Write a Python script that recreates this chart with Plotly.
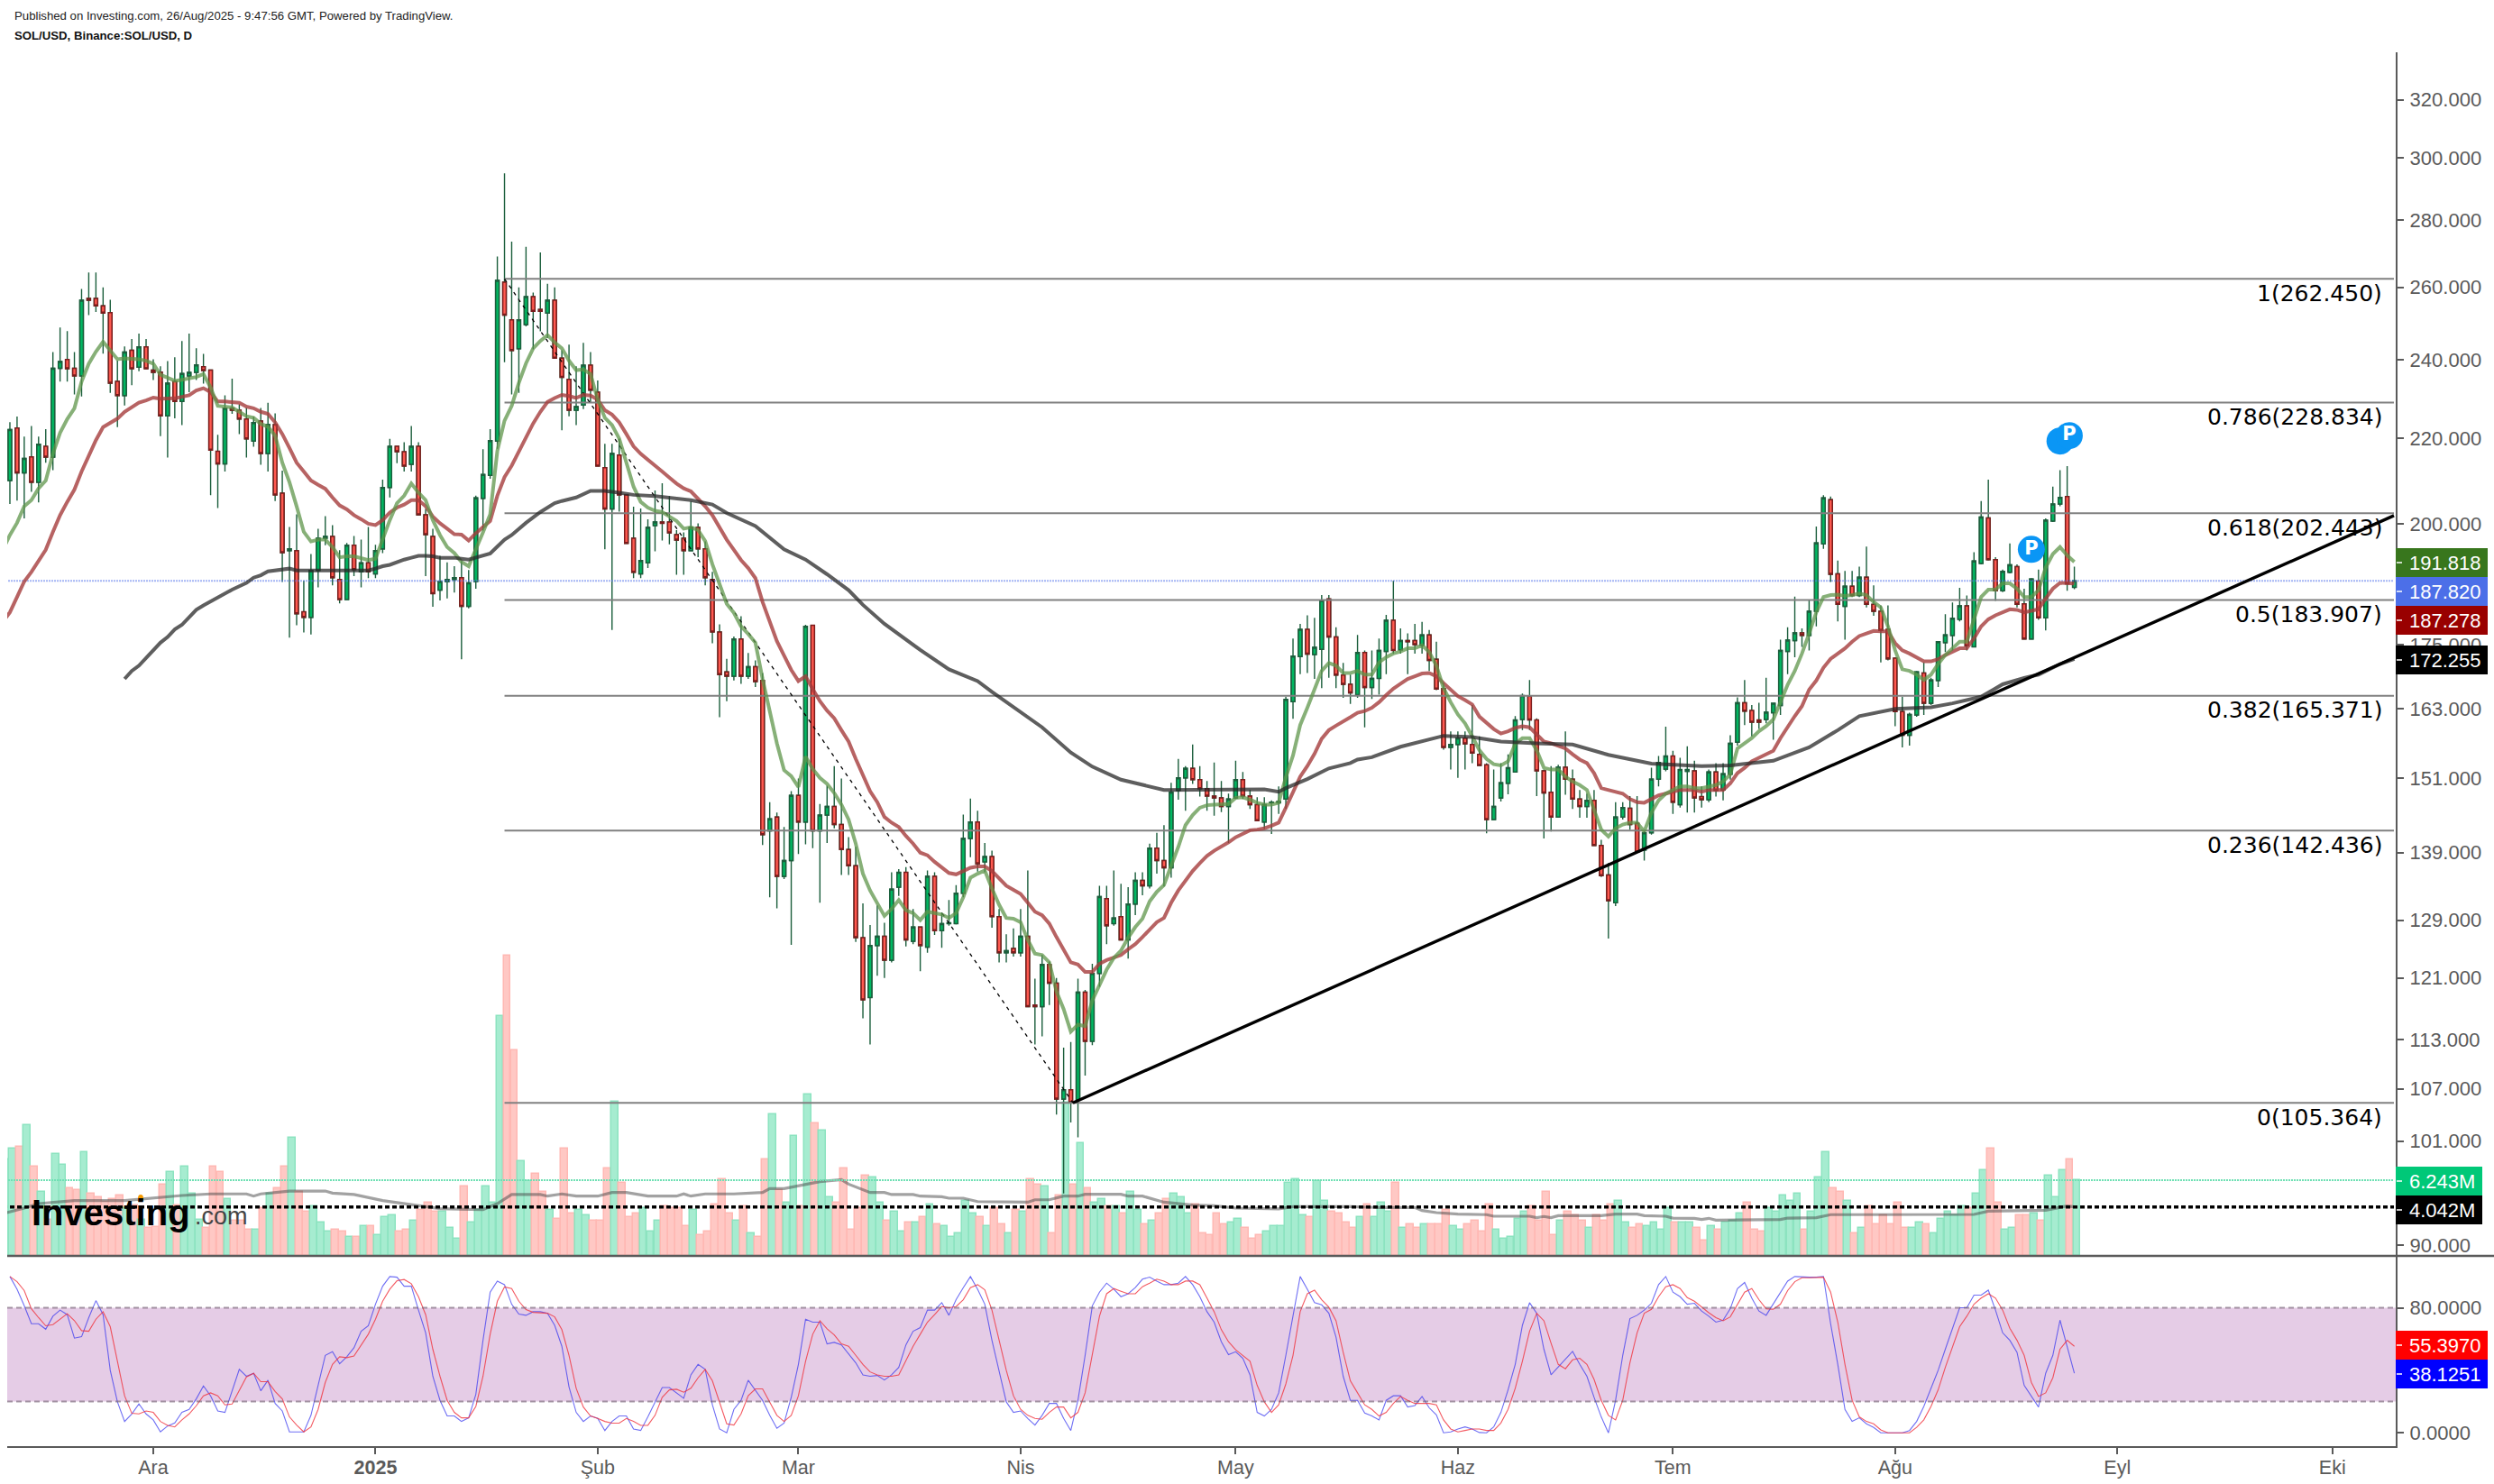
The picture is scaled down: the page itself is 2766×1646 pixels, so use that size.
# SOL/USD daily chart with fib levels, volume and stochastic
import math
import pandas as pd
import plotly.graph_objs as go

W, H = 2766, 1646

# candles, one per day from 2024-11-11
first_day = pd.Timestamp("2024-11-11")

opens = [
    209.9,222.5,211.7,215.5,209.5,218,215.4,237.7,240,237.7,
    235.7,256.8,256.8,254.7,252.8,234.3,230.6,242.5,238,243.4,
    237.2,236.7,225.5,234.3,229.1,235.7,236.6,238.1,237.2,216.8,
    213.8,227.4,226.9,224.7,219.3,224.2,216.3,223.3,207,194.2,
    194.2,181.5,180.4,190,196.9,197.3,188.1,184,195.4,189.7,
    191.6,189.3,194.6,208.3,218,216.7,213.7,218,202.1,197.3,
    185.9,187.7,188.1,188.5,182.6,187.7,205.8,211.1,219.3,261.5,
    250.8,242.9,249.5,257.3,253.7,252.7,256.3,240.4,234.8,226.9,
    228.2,238.5,231.5,212.9,203.4,215.9,206.6,196.9,189.3,191.6,
    199.7,200.5,200.5,197.7,196.9,194.2,199.3,194.6,188.1,177.5,
    169.8,169,176.1,169,170.8,168.2,142.4,144.6,135.4,137.8,
    148.1,143.8,178.8,142.4,144.9,146.3,143.4,139.5,137,126.5,
    118.4,125.4,126.7,123.4,133.8,136,126,128,125.2,135.4,
    127.5,128.5,128.5,132.9,141.2,143.8,137.6,138.4,129.5,124.4,
    125,124.4,126.7,117.4,117.2,122.8,120.3,105.8,106.9,105.7,
    119.1,112.8,121.6,132.1,128.5,129.5,126.2,131.3,134.8,134,
    139.7,137.8,136.7,148.9,151,152.6,150.7,149.2,148,147.7,
    146.3,147.7,150.7,148,146.6,143.8,146.9,146.9,147.5,164.3,
    172.7,178,173.1,174.1,184.1,176.5,169.2,167.5,165.6,173.5,
    166.9,168.6,173.7,179.8,174,175.8,175.8,174.9,176.9,172.2,
    166.7,156.2,156.7,157.8,156.7,155,153.2,144.2,147.7,150.1,
    152,161.1,165.3,161,152.2,148.6,144.6,152.8,150.8,147.5,
    146.3,147.3,140.1,135.6,131.5,144.6,146,143.6,139.4,142.1,
    150.8,152.5,154.7,146.6,152.1,152.2,147.9,147.4,152,149,
    151.6,157.1,164.1,162.7,161,161.1,162.3,163.6,173.7,175.8,
    177.3,176.8,181.6,195.7,205.5,189.3,182.6,186.7,184.8,188.6,
    183,181.6,178,172.4,162.5,158.3,161.9,169.6,164,168.2,
    175.4,176.8,180,182.7,174.6,191.5,201.4,192.3,185.8,189.6,
    190.8,183.1,176.1,187.8,180.3,200.7,204.5,206.2,186.5,
]
closes = [
    222.1,211.7,215.1,209.5,218.5,215.4,237.7,239.5,237.6,235.7,
    256.3,256.3,254.7,252.7,233.8,230.6,242,237.6,243.4,237.6,
    236.6,225.5,233.8,229.1,236.3,236.6,238.6,237.1,217.1,213.8,
    227.4,226.9,224.7,219.8,223.8,216.3,223.3,206.6,193.8,194.6,
    181.1,180.4,190,196.9,197.3,188.5,184,195.4,190.2,191.6,
    189.7,194.2,208.3,218,216.7,213.3,218,202.1,197.7,185.2,
    187.7,188.1,188.5,182.6,187.4,205.9,211.3,219.4,262,252.1,
    242.4,250.8,257.3,253.2,253.2,256.3,240.4,235.3,226.9,227.8,
    238.5,232,213.3,203.4,216.3,206.6,195.8,189.6,192.1,199.3,
    200.5,200.2,198.1,196.5,194.2,199.3,194.6,188.5,177.5,169.3,
    169,176.1,169,170.8,168,141.8,144.3,135.4,137.8,148.1,
    143.8,178.6,142.4,144.9,146.3,143.4,139.5,137,126.5,118.1,
    125.4,126.7,123.4,133.5,136,126.2,128,125.4,135.4,127.5,
    128.5,128.6,132.9,141.2,143.8,137.3,138.4,129.5,124.4,124.7,
    124.4,126.7,117.2,117.2,122.8,120.3,105.8,106.9,105.4,119.1,
    112.8,121.6,132.4,128.2,129.3,126.2,131.3,134.8,134,139.7,
    137.8,136.7,148.6,151,152.6,150.7,149.2,148,147.7,146.3,
    147.5,150.7,148,146.6,144,146.6,147,147.1,164.7,172.8,
    178,173.2,174.5,183.8,176.5,169.2,167.5,165.9,173.5,166.9,
    168.6,173.9,179.8,173.9,175.8,175.6,175,176.9,172,166.6,
    156.2,156.7,157.8,156.8,155.2,153.1,144.2,146.3,150.2,152.7,
    161,165.4,161,152.2,148.5,144.6,152.8,150.8,147.5,146.3,
    147.3,140.1,135.5,131.8,144.6,146.1,143.4,139.1,142.1,150.8,
    153.6,154.7,147,152.4,152.4,147.7,147.4,152,148.9,151.7,
    156.9,164.1,162.6,160.6,160.6,162.4,164,173.9,175.9,177.3,
    176.8,181.6,195.9,205.9,189.2,183,186.7,184.8,188.6,183,
    181.6,177.8,172.3,162.5,158.3,162,169.8,164,168.3,175.6,
    176.9,180.2,182.7,174.8,192,201.6,192.3,185.8,189.8,191.2,
    183,176.1,188.2,180.3,200.9,204.5,206,187.2,187.82,
]
highs = [
    223.9,225.3,220.4,223,220.4,222.2,242,248.7,247.7,242,
    259.5,264.3,264.3,260,256.4,239.7,243.5,245.5,247,245.5,
    240.1,238.2,239.6,240.6,245,247,243,241.5,237.2,220.8,
    230.7,235,228.4,227.5,225.3,227.5,228.8,226.1,212.2,199.4,
    202.2,187.9,193.5,199,201.8,199.8,194.3,195.9,197.4,196.6,
    199.4,195.5,210.1,219.8,218,219,223,219,203.4,199,
    193.1,191.7,190.9,192,190.1,206.4,217.3,222.2,269,295,
    273.5,260,271.9,258.5,270.2,261,260,242.5,244,238.2,
    244.5,242,234.5,218.6,218.6,219.9,206.7,203.9,203.5,201.1,
    207.6,209.3,206.3,198.7,198.2,205.1,200.2,196.2,189.7,179,
    172.3,176.6,180.6,173.4,172,169.6,147,145.3,143,148.8,
    150.9,178.9,178.9,146.7,149.7,153,150.9,141.4,139.9,131.4,
    128.3,131.1,128.6,136,136.5,136.8,130.6,128,136.3,136,
    130.1,131.9,134.1,145,147.6,145.6,140.5,139.3,130.6,127,
    127.8,130.6,136.3,120.9,124.1,123.2,121,112,112.7,120.9,
    119.4,122.9,134,134,136.3,134.3,133.8,136,136,140.4,
    142.1,143.3,150.2,154.2,153,156.7,153,150.5,153.6,150.5,
    148.4,153.9,152,149,147.8,147.8,147.3,149.6,165.2,176.2,
    179.1,180.8,180.3,184.9,184.9,178.4,171.5,169.3,176.9,173.9,
    173.9,176.2,180.9,187.9,178.2,177.2,179.1,179.5,177.9,175.6,
    167.8,159,159,159,163.7,158.1,153.5,152.4,153.5,155,
    161.7,165.8,168.3,161.3,152.4,153,153.2,159,152.4,149,
    148.4,149,141,137.4,147,147,148,148,142.6,152.7,
    154.7,159.8,155.6,154.4,156.4,153.9,149.6,152.4,153.5,153.5,
    158.3,165.1,168.3,163.7,164.1,168.7,164.1,176,178.4,184.6,
    178.2,183.8,199.5,206.5,206.2,192.1,189.9,189.9,190.8,195.1,
    186.9,182.8,182.8,172.6,165.2,162.3,170,171.6,168.7,175.7,
    181,183.4,186.4,184.8,193.9,205.2,210.1,192.8,190.2,195.8,
    191.3,186.2,188.4,190.2,201.3,208.5,212.3,213.3,190.8,
]
lows = [
    204.5,205.3,201.3,207.3,204.9,214.1,212.3,234.2,234.2,230.9,
    230.4,252.1,253,241.6,231.3,222.7,228.1,233.3,236.9,237.6,
    234.6,220.5,215.3,224.9,223.2,231.5,234.6,233.7,206.5,203.6,
    212,226,221,215.3,217.9,213.6,212,205.2,187.6,176.4,
    178.8,177.4,177,186.5,195.4,186.9,183.2,184,188.8,186.5,
    188.4,188.4,193.7,206,214,212,212,202.1,188.8,182.5,
    183.8,184.2,185.4,172.2,182.2,186.2,198.6,210.3,217.4,239.3,
    230.9,231.3,249,242.7,247.6,245.8,240.4,221.9,225.4,223.2,
    227.2,228.7,213.3,194.5,177.9,202.8,195.8,188.4,188.4,190.5,
    194.1,196.4,195.6,189.1,189.1,194.1,192.8,186.9,175.3,161.5,
    164.4,168.2,167.6,168.5,167,140.2,132.3,130.7,135,125.5,
    138.8,140.3,139.7,131.5,140.5,142.8,135.6,135.6,125.9,115.7,
    112.4,121.3,121,123.1,132.5,125.3,125.6,121.9,124.4,126.9,
    125.1,128.2,128.4,132.3,138.3,136.1,136,127.9,123.1,123.1,
    123.9,123.9,117.2,112.4,113.4,117.4,104,95.3,103.1,101.4,
    108.6,112.3,119.8,125.6,128.2,126.2,123.6,129.7,132.6,133.6,
    135.8,133.9,135.2,147.4,145.6,150,147.9,145.6,144.8,145.4,
    140.5,147.5,147.5,145.9,143.9,142.7,141.9,145.1,145.9,161.2,
    169.4,169.6,168.5,166.8,168.7,166.8,165,163.9,165,159.7,
    164.8,165.6,169.4,173.3,173.3,169.4,173.3,173.3,170,166.4,
    155.8,152.4,151,152.4,153.5,153,142,144.2,147.1,148.3,
    151.9,159.2,159.2,148,141.2,142.3,144.5,148.2,145.9,144.5,
    144.5,140,135.3,126.4,131,144.2,142.6,139.1,137.8,141.8,
    149.6,152.1,145.1,146.1,145.3,145.3,146.1,147,147.9,147.3,
    150.7,156.5,160.1,158.1,159.4,160.4,157.5,161.9,169.4,172.6,
    174.6,173.9,178.6,194.6,187.6,179.6,176,184.5,184.5,182.4,
    180.7,171.6,172,159.9,156.2,156.5,161.6,161.9,163.7,167,
    173.6,173.9,179.6,173.9,174.6,191.3,192.1,183.7,185.5,189.4,
    182.4,176.1,176,179.9,177.8,200.5,204,185.8,186.1,
]

# fast and slow averages, first value is the day before the first candle
ema_fast = [
    194.4,197.6,200.3,204,205.4,208.1,209.9,216.2,221.3,224.7,227.4,
    234.2,238.9,242.1,244.8,242.5,240.1,240.3,240.2,240.1,239.7,
    238.9,236,235.2,234.4,234.7,235,235.4,236.2,232.7,228,
    227.9,227.6,226.5,225.4,225,223.5,222.8,220.6,214.1,209.5,
    204,198.3,196.2,196.6,196.6,195,192.8,193,193,192.5,
    192.2,192.5,196.9,200.9,204.7,206.4,209.2,207.1,205.4,200.9,
    197.6,195,193.7,191.8,190.9,194.4,198.2,202.2,216.9,224.3,
    228,233.9,239,243,245,246.6,244.6,243,239.7,237.2,
    237.4,236.2,229.6,225,223.2,219.9,214,208.5,205,203.7,
    203,202.7,201.7,200.7,199,199.3,198.7,196.3,191.3,187.4,
    183.1,181.3,178.6,177.1,175.4,168.5,162.5,156.9,152.3,151.3,
    149.5,154.6,152.5,151,150,148.5,146.6,144.2,140.4,135.8,
    133.3,131.5,129.6,130.6,131.9,130.4,130,129,130.2,130,
    129.8,129.3,130,132.3,135.2,135.8,136.3,133.6,131.2,129.3,
    129.2,128.7,126.2,124.3,124.1,123.1,119.2,116.9,114,114.9,
    114.7,118,120,122.1,123.7,124.7,126.5,128,129.2,131.7,
    133.1,134.1,137,139.9,143.3,144.9,146.1,146.5,146.6,146.7,
    146.7,147.7,147.8,147.4,146.9,146.6,146.6,146.9,151.1,154.8,
    160.1,163.2,166.5,170,171.5,171,169.6,169.6,170,169.3,
    169.3,171.6,172.6,173.3,173.7,174.3,174.3,174.9,173.6,171,
    166.8,164.2,162,160.4,158.1,155.7,154.2,153.3,153.1,153.8,
    156.8,157.8,157.8,155.7,152.7,152.4,152.4,151.2,150.4,149.8,
    149,145.9,142.6,141.5,142.8,143.4,143.7,143.7,142.3,145.3,
    147.3,148.4,149,149.6,149.6,149.3,149.3,149.6,149.8,150.4,
    151.6,156,156.9,157.8,159,159.9,161.1,164.2,167.4,170,
    173.3,177.2,181.4,184.5,184.9,185,184.7,184.9,185.2,184.9,
    183.5,182.4,178.6,173.9,170.3,170,169.3,168.3,169.3,171.3,
    173,174.3,175.6,175.6,180,184.5,186,186,187.3,187.3,
    186.2,184.5,184.5,185.9,190.6,193.5,195,193.2,191.818,
]
ema_slow = [
    179.5,181.4,184.5,187.7,189.7,191.9,194.4,198.3,202,205,207.8,
    212,215.9,219.5,222.7,223.8,224.8,226.5,227.6,228.8,229.4,
    230.1,229.8,229.9,229.9,230.3,230.7,231.9,232.5,231.5,229.1,
    229.1,229,228.8,227.8,227.4,226.5,226,223.9,221,217.6,
    214.1,212,209.9,208.9,208,206,204.2,203.3,202,201.1,
    200.1,199.8,200.9,202.6,203.7,204.4,205.4,205.4,204,201.7,
    200.2,199,197.8,197.7,196.4,198,199.3,200.7,206.4,210.7,
    213.4,216.9,220.2,223.6,226.5,229,230,230.8,230.5,230,
    230.8,230.6,229.6,226.9,225.8,223.9,221,218,216.2,214.7,
    213.3,212,210.6,209.2,208.1,207.4,205.7,204,202,199.3,
    196.6,194.4,192.2,190.5,188.4,183.5,179.4,175.7,172.9,170.2,
    168.1,169,166.6,164.4,162.7,161.3,159.2,157.2,154.2,151.3,
    148.8,147,144.6,143.7,143,141.6,140.4,139,138.6,137.6,
    136.7,135.9,135.7,136.2,136.7,136.9,136.9,136.2,135.1,134,
    133.4,132.8,131.5,130.2,129.7,128.5,126.6,124.9,123.1,122.8,
    121.8,121.8,122.9,123.4,123.8,124.1,124.9,125.6,126.6,127.6,
    128.7,129.3,131.5,133.3,134.8,136.2,137.4,138.5,139.3,139.9,
    140.6,141.4,142,142.5,142.6,142.8,143.2,143.7,146.1,148.5,
    151.2,153,155.1,157.7,159.2,160,160.7,161.5,162.3,162.6,
    163.2,164.2,165.5,166.7,167.6,168.5,169,169.5,169.6,169,
    167.7,166.4,165.3,164.6,163.8,161.6,160.4,159.4,158.6,159,
    159.6,159.9,159.7,158.4,157.2,156.9,156.5,156,155,154.1,
    153.5,151.8,149.3,149,148.7,148.4,147.5,147,146.9,147.5,
    148.1,148.4,148.7,149,149,149,148.7,149,149,149,
    150.1,151.8,152.7,153.8,154.4,155,155.6,157.8,159.8,161.7,
    163.5,166.5,168.2,170.6,172.3,173.3,174.3,175.6,176.7,177.2,
    177.7,177.6,177.6,175.3,173.9,173.3,172.6,171.8,171.8,172.2,
    173,173.6,174.3,174.3,176.2,178.6,180,180.8,181.5,182,
    181.9,181.4,181.7,182,184.2,186.2,187.4,187.4,187.278,
]

# long average, read at its bends: days after the first candle and price
ema_long_days = [
    16,17,18,20,21,22,23,24,25,26,27,28,29,30,31,32,33,34,35,36,37,38,39,40,50,51,52,53,54,55,56,57,58,59,60,62,64,
    65,66,67,68,69,70,72,74,76,77,79,81,83,85,87,90,92,95,98,100,104,108,111,114,117,119,122,127,131,135,137,
    140,144,148,151,155,161,175,177,178,181,184,187,188,190,194,200,204,208,213,218,223,229,236,240,246,251,
    255,258,263,268,271,275,278,281,283,286,288,
]
ema_long = [
    168.5,170,171,173.9,175.4,176.5,178,178.9,180.4,181.9,182.8,183.6,184.3,185.3,186,186.7,187.4,188.5,189,189.8,190,190.2,190.4,190,190,190.4,190.9,191.2,191.8,192.3,192.7,193.1,193.1,193,192.7,192.7,192.3,
    192.8,193.1,193.6,195.1,196.6,197.6,200.3,202.7,204.7,205.2,206,207.5,207.5,207.1,206.6,206.3,205.9,205.4,204.4,202.5,199.6,194.5,192.3,189.2,185.9,182.9,179.1,174,170.3,168.1,166.1,
    163.3,159.7,155.3,152.9,150.7,149,149.1,148.7,149.3,150.8,152.6,153.5,154.1,154.5,156.3,158.2,158,157.2,156.9,156.7,154.9,153.4,153,153.1,153.9,156.2,
    159.2,161.7,163,163.3,164,165.2,167.5,168.7,169.3,171.3,172.255,
]

# volume in millions, first value is the day before the first candle
volumes = [
    7.93,8.82,8.97,10.76,7.34,5.25,2.95,8.38,7.48,5.55,5.4,
    8.53,5.11,4.81,4.44,4.68,4.96,3.94,4.19,2.95,2.28,
    2.4,5.85,6.89,4.19,7.34,5.11,2.95,2.28,7.34,6.89,
    4.66,2.87,2.87,2.13,2.13,3.92,5.11,5.55,7.34,9.71,
    5.25,3.62,4.06,2.73,1.98,2.13,1.98,1.54,1.54,2.43,
    2.43,1.69,3.17,3.32,1.98,2.13,2.87,3.77,4.36,3.62,
    3.62,2.28,1.39,5.7,2.73,3.77,5.7,4.36,19.78,24.76,
    16.95,7.78,6.17,6.74,5.25,3.77,3.02,8.82,3.47,3.77,
    3.32,2.87,2.87,7.19,12.7,6,3.17,3.47,3.92,1.98,
    2.87,4.06,3.92,3.92,2.43,3.77,1.69,1.98,4.21,6.29,
    3.47,2.87,4.06,1.83,1.54,7.93,11.65,5.43,4.36,9.86,
    4.06,13.3,10.9,10.31,4.81,4.36,7.19,2.13,3.92,6.59,
    6.44,4.36,2.87,3.62,1.98,2.73,2.73,3.17,4.21,2.58,
    2.43,1.54,1.83,4.51,3.47,3.17,2.43,3.92,2.58,1.83,
    3.77,3.62,6.29,5.85,5.7,1.83,4.96,12.64,5.85,9.27,
    5.55,4.36,4.66,4.06,4.06,3.47,5.25,3.77,2.58,2.87,
    3.47,4.66,5.11,4.81,3.47,4.21,1.83,1.69,3.47,2.58,
    2.73,3.02,2.28,1.39,1.69,1.98,2.43,2.43,6,6.29,
    3.32,3.17,6.15,4.51,3.62,3.47,2.73,2.28,3.17,4.21,
    3.17,4.36,3.62,6,2.28,2.58,2.28,2.58,2.58,2.58,
    3.77,2.43,2.13,2.58,2.87,1.98,4.21,2.13,1.39,1.54,
    3.02,3.62,4.06,2.87,5.25,1.69,2.87,3.62,3.32,2.87,
    2.28,3.32,2.87,4.21,4.51,2.73,2.28,2.58,2.43,2.73,
    2.13,3.92,2.73,2.73,2.73,2.28,1.24,2.43,2.13,2.73,
    2.87,3.47,4.36,2.13,1.98,3.92,3.62,4.96,4.51,5.11,
    2.13,3.62,6.44,8.53,5.55,5.25,4.51,1.83,2.28,4.06,
    2.58,3.32,2.58,4.36,2.28,2.28,2.73,2.58,1.83,3.02,
    3.62,3.32,4.06,3.92,5.11,7.04,8.82,4.36,2.13,2.28,
    3.32,3.32,3.47,2.87,6.59,4.81,7.04,7.93,6.243,
]
vol_ma_days = [
    -1,2,4,9,16,21,24,28,33,34,35,39,44,45,48,52,56,60,66,68,70,74,75,77,79,82,84,86,
    89,93,94,95,97,101,105,106,108,109,113,116,117,120,122,123,126,127,130,131,133,135,142,143,145,147,149,150,155,156,158,161,163,165,168,171,177,179,187,
    191,196,197,199,202,206,207,212,213,214,215,216,222,224,227,228,231,232,235,236,237,238,247,248,252,254,274,276,284,287,288,
]
vol_ma = [
    3.49,3.94,4.31,4.56,4.56,4.81,4.98,5.11,5.11,4.93,5.11,5.35,5.35,5.18,5.06,4.56,4.24,3.89,3.81,4.31,5.06,5.06,4.93,5.11,4.93,4.93,5.23,5.23,
    4.93,4.93,5.11,4.93,5.11,5.11,5.23,5.55,5.55,5.67,6.12,6.29,5.92,5.23,5.23,5.06,5.06,4.93,4.88,4.76,4.76,4.48,4.43,4.63,4.63,4.93,4.93,5.08,5.08,4.93,4.93,4.43,4.31,4.19,4.14,3.94,3.87,4.06,4.06,
    3.99,3.99,3.74,3.57,3.45,3.4,3.27,3.27,3.15,3.25,3.15,3.32,3.32,3.45,3.45,3.32,3.27,3.12,3.1,3.0,3.1,2.95,3.0,3.12,3.15,3.4,3.42,3.69,3.77,4.12,4.042,
]

# stochastic, one value per candle
stoch_k = [
    100,91.9,81.3,69.8,69.8,66.3,74.6,78.5,75.6,60.6,
    61.5,73.7,84.6,75.6,40,19.8,7.3,12.1,18.5,12.1,
    8.3,0.6,4.4,6.3,13.1,15,21.7,30,23.7,14,
    13.1,26.5,40.6,36.2,38.1,26.9,33.7,18.8,14,0.6,
    0.6,0.6,11.2,30.4,49.6,51.9,44.2,48.7,54.4,65,
    68.5,82.3,93.8,100,99.6,93.8,93.8,78.5,64,36.2,
    20.8,10.8,10.8,7.3,9.6,24.6,59.2,90,97.1,94.8,
    82.3,76,75.2,77.5,77.5,76.5,68.8,55.4,29.4,13.1,
    7.3,10.8,9.2,1.5,7.3,10.8,10.8,2.5,1.5,10.2,
    19.8,29,29,25.6,22.1,37.1,43.8,40.6,17.9,2.5,
    0,15,20.8,33.7,27.5,20.8,11.2,2.9,6.3,22.7,
    43.8,72.7,70.8,70.8,56.9,57.9,56.3,50.6,44.8,37.1,
    36.2,36.7,33.8,37.1,41.9,56.3,65,67.3,78.5,78.5,
    83.3,75.2,85.2,92.9,100,91.9,82.3,59.2,40,19.8,
    13.1,14,9.2,5,11.2,18.8,18.8,9.2,1.5,20.8,
    49.6,81.3,90,95.8,91.9,87.1,89,92.9,98.3,99.6,
    97.1,94.8,94.8,95.8,100,94.8,87.1,77.5,70.8,58.3,
    50,51.9,47.7,37.1,13.1,10.8,15,25.6,49.6,74.6,
    100,91.9,83.3,81.9,76.5,61.2,36.2,20.8,20.8,12.7,
    10.8,8.3,20.8,23.7,23.7,16.5,17.5,23.3,16,11.5,
    0,0.6,2.5,3.8,2.5,0.2,0,3.8,13.1,27.5,
    43.8,68.8,83.3,76.5,53.5,37.1,41.9,46.7,52.1,43.8,
    36.2,22.7,10.2,0,20.8,49.6,73.1,75.2,78.5,82.9,
    94.8,100,90,87.1,82.3,82.9,77.9,74.6,70.8,72.1,
    79.4,92.3,96.2,86.2,77.9,75.2,82.3,90,97.1,100,
    99.6,99.6,99.6,100,69.8,43.8,15,7.3,9.6,5.8,
    3.5,0,0,0,0,1.5,7.3,16.9,28.5,40,
    53.5,66.9,80,80,88.1,88.1,91.3,78.5,64,59.2,
    51.5,30.4,23.7,16.5,38.1,49.6,72.1,55.4,38.1251,
]
stoch_d = [
    100,96.7,91,79.4,73.7,68.5,69.2,72.7,76.2,71.8,
    65.4,65,72.7,77.5,67.9,45.8,23.7,12.5,12.1,14,
    13.1,7.3,4.8,3.8,8.3,12.1,17.3,23.7,25.6,23.7,
    17.9,18.5,27.5,35.8,38.1,32.7,32.7,26.5,21.7,10.2,
    5,0.6,3.8,15,32.3,43.8,48.7,48.1,49.2,56.3,
    63.1,72.7,84.2,91.9,97.3,98.1,95.4,87.1,75.6,53.5,
    36.2,20.8,13.1,9.6,9.6,16.9,36.2,63.1,84.2,93.3,
    92.3,84.2,78.8,77.1,76.9,76.5,74.2,66,49.6,28.5,
    16.5,10.8,9.2,7.3,6.2,6.2,9.2,7.3,4.8,4.8,
    11.2,22.7,27.5,27.9,26,28.5,35.2,40.6,33.3,19.8,
    5.8,5,12.1,23.7,28.1,28.1,19.8,11.2,7.3,11.2,
    23.7,45.8,63.1,71.7,66.5,62.7,56.9,55.4,49.6,43.8,
    39,37.1,36.2,36.2,37.1,45.8,55.4,63.1,70.8,75.6,
    80.8,80,80.8,85.2,92.9,94.8,91.5,78.5,59.2,40,
    23.7,15,11.2,9.2,8.7,13.1,16.5,16.5,9.6,13.1,
    25.6,49.6,74.6,89,92.3,90.6,89,89,93.5,95.8,
    98.3,97.1,94.8,94.8,97.1,97.1,94.8,86.2,77.5,66,
    58.3,53.1,49.6,45.8,30.4,19.8,13.1,17.9,31.3,49.6,
    77.5,89,91.3,85.2,80.4,71.7,51.5,33.3,25.6,17.9,
    15,10.8,13.1,18.8,23.3,20.8,18.8,18.8,18.8,17.9,
    8.3,2.5,0.6,1.5,2.5,2.5,1.5,1.5,6.3,15,
    28.5,45.8,65,76.5,71.7,57.3,43.8,41,46.7,47.7,
    43.8,34.2,20.8,11.2,8.3,20.8,44.8,64,76.5,79,
    87.1,93.5,94.8,92.3,86.5,84.2,80.4,76.9,73.7,71.7,
    74.2,82.3,90,92.3,85.2,79.4,79,82.3,91,96.7,
    99.2,99.2,99.2,99.6,90,70.8,43.8,20.8,10.2,7.3,
    5.8,1.9,0,0,0,0,3.5,8.3,16.9,27.5,
    41.9,55.4,67.9,74.6,82.3,86.2,89,86.2,78.5,66.9,
    59.2,49.6,32.3,23.3,25.6,35.2,53.5,59.2,55.397,
]

# fib retracement
fib_ratios = [1, 0.786, 0.618, 0.5, 0.382, 0.236, 0]
fib_levels = [262.45, 228.834, 202.443, 183.907, 165.371, 142.436, 105.364]
fib_start = "2025-01-19"
line_end = "2025-10-09 14:00"
swing_low_day = "2025-04-08 07:00"

trend_dates = [swing_low_day, line_end]
trend_prices = [105.364, 201.9]
swing_dates = [fib_start, swing_low_day]
swing_prices = [262.45, 105.364]

pivot_dates = ["2025-08-20", "2025-08-24", "2025-08-25 07:00"]
pivot_prices = [194.5, 219.3, 220.6]

last_price = 187.82
last_volume = 6.243
vol_ma_last = 4.042

price_ticks = [320, 300, 280, 260, 240, 220, 200, 175, 163, 151, 139, 129, 121, 113, 107, 101, 90]
month_dates = ["2024-12-01", "2025-01-01", "2025-02-01", "2025-03-01", "2025-04-01", "2025-05-01",
               "2025-06-01", "2025-07-01", "2025-08-01", "2025-09-01", "2025-10-01"]
month_names = ["Ara", "<b>2025</b>", "Şub", "Mar", "Nis", "May", "Haz", "Tem", "Ağu", "Eyl", "Eki"]

# boxes on the right axis: text, colour, centre in pixels, right end in pixels
axis_boxes = [
    ("191.818", "#38761D", 624, 2759),
    ("187.820", "#4C6FE8", 656, 2759),
    ("187.278", "#990000", 688, 2759),
    ("172.255", "#000000", 732, 2759),
    ("6.243M", "#00C878", 1310, 2753),
    ("4.042M", "#000000", 1342, 2753),
    ("55.3970", "#FF0000", 1492, 2759),
    ("38.1251", "#0000FF", 1524, 2759),
]

FONT = "Liberation Sans"
AXIS_COLOR = "#5A5A5A"


def px(x):
    return x / W


def py(y):
    return 1 - y / H


candle_dates = pd.date_range(first_day, periods=len(closes))
line_dates = pd.date_range(first_day - pd.Timedelta(days=1), periods=len(volumes))

up = [True] + [c >= o for o, c in zip(opens, closes)]
vol_fill = ["#A6ECD0" if u else "#FFC8C4" for u in up]
vol_edge = ["#8CE3C0" if u else "#FFB8B3" for u in up]
DAY_MS = 86400000

data = []

# volume sits on the bottom axis so the price overlay is drawn above it
data.append(go.Bar(x=line_dates, y=volumes, yaxis="y", xaxis="x",
                   width=DAY_MS * 0.98, offset=-DAY_MS * 0.12,
                   marker=dict(color=vol_fill, line=dict(color=vol_edge, width=1.5))))
data.append(go.Scatter(x=[first_day + pd.Timedelta(days=d) for d in vol_ma_days], y=vol_ma,
                       yaxis="y", mode="lines",
                       line=dict(color="rgba(70,70,70,0.5)", width=3.2)))
data.append(go.Scatter(x=[line_dates[0], line_end], y=[last_volume, last_volume], yaxis="y", mode="lines",
                       line=dict(color="#6FE0B4", width=2, dash="2px,1px")))
data.append(go.Scatter(x=[line_dates[0], line_end], y=[vol_ma_last, vol_ma_last], yaxis="y", mode="lines",
                       line=dict(color="#000000", width=3.5, dash="5px,3px")))

# wicks first, then bodies without wicks so both colours get dark green wicks
data.append(go.Candlestick(x=candle_dates, open=opens, high=highs, low=lows, close=closes, yaxis="y2",
                           increasing=dict(line=dict(color="#1B5E3C", width=1.4), fillcolor="#00B862"),
                           decreasing=dict(line=dict(color="#1B5E3C", width=1.4), fillcolor="#FF5A50")))
data.append(go.Candlestick(x=candle_dates, open=opens,
                           high=[max(o, c) for o, c in zip(opens, closes)],
                           low=[min(o, c) for o, c in zip(opens, closes)],
                           close=closes, yaxis="y2",
                           increasing=dict(line=dict(color="#1B5E3C", width=1.5), fillcolor="#00B862"),
                           decreasing=dict(line=dict(color="#7B1C1C", width=1.5), fillcolor="#FF5A50")))

for level in fib_levels:
    data.append(go.Scatter(x=[fib_start, line_end], y=[level, level], yaxis="y2", mode="lines",
                           line=dict(color="#808080", width=2)))

data.append(go.Scatter(x=[line_dates[0], line_end], y=[last_price, last_price], yaxis="y2", mode="lines",
                       line=dict(color="rgba(90,120,235,0.55)", width=2, dash="2px,1px")))
data.append(go.Scatter(x=swing_dates, y=swing_prices, yaxis="y2", mode="lines",
                       line=dict(color="#000000", width=1.3, dash="4px,5px")))
data.append(go.Scatter(x=line_dates, y=ema_slow, yaxis="y2", mode="lines",
                       line=dict(color="rgba(165,60,60,0.8)", width=4)))
data.append(go.Scatter(x=line_dates, y=ema_fast, yaxis="y2", mode="lines",
                       line=dict(color="rgba(95,150,75,0.75)", width=4)))
data.append(go.Scatter(x=[first_day + pd.Timedelta(days=d) for d in ema_long_days], y=ema_long, yaxis="y2",
                       mode="lines", line=dict(color="rgba(40,40,40,0.75)", width=4)))
data.append(go.Scatter(x=trend_dates, y=trend_prices, yaxis="y2", mode="lines",
                       line=dict(color="#000000", width=3.4)))
data.append(go.Scatter(x=pivot_dates, y=pivot_prices, yaxis="y2", mode="markers+text",
                       marker=dict(color="#0A96F5", size=30), text=["<b>P</b>", "", "<b>P</b>"],
                       textposition="middle center",
                       textfont=dict(color="#FFFFFF", size=21, family="DejaVu Sans")))

# stochastic pane
data.append(go.Scatter(x=candle_dates, y=stoch_k, yaxis="y3", mode="lines",
                       line=dict(color="rgba(50,50,240,0.7)", width=1.1)))
data.append(go.Scatter(x=candle_dates, y=stoch_d, yaxis="y3", mode="lines",
                       line=dict(color="rgba(240,50,60,0.8)", width=1.1)))

shapes = [
    dict(type="rect", xref="x domain", x0=0, x1=1, yref="y3", y0=20, y1=80,
         fillcolor="#E5CCE6", line=dict(width=0), layer="below"),
    dict(type="line", xref="x domain", x0=0, x1=1, yref="y3", y0=80, y1=80,
         line=dict(color="rgba(110,90,110,0.6)", width=2, dash="6px,4px")),
    dict(type="line", xref="x domain", x0=0, x1=1, yref="y3", y0=20, y1=20,
         line=dict(color="rgba(110,90,110,0.6)", width=2, dash="6px,4px")),
    dict(type="line", xref="paper", yref="paper", x0=px(8), x1=1, y0=py(1393), y1=py(1393),
         line=dict(color=AXIS_COLOR, width=2.4)),
    # orange dot of the logo
    dict(type="circle", xref="paper", yref="paper", x0=px(153), x1=px(159), y0=py(1333), y1=py(1325),
         fillcolor="#F59A00", line=dict(width=0), layer="above"),
]

annotations = []

# fib labels hang under their lines
for ratio, level in zip(fib_ratios, fib_levels):
    annotations.append(dict(xref="paper", x=px(2644), yref="y2", y=math.log10(level), yshift=-16,
                            text=f"{ratio}({level:.3f})", showarrow=False, xanchor="right", yanchor="middle",
                            font=dict(family="DejaVu Sans", size=25, color="#000000")))

for text, color, cy, right in axis_boxes:
    shapes.append(dict(type="rect", xref="paper", yref="paper", x0=px(2657), x1=px(right),
                       y0=py(cy - 16), y1=py(cy + 16), fillcolor=color, line=dict(width=0), layer="above"))
    shapes.append(dict(type="line", xref="paper", yref="paper", x0=px(2658), x1=px(2664),
                       y0=py(cy), y1=py(cy), line=dict(color="#FFFFFF", width=1.5), layer="above"))
    annotations.append(dict(xref="paper", yref="paper", x=px(2670), y=py(cy), text=text, showarrow=False,
                            xanchor="left", yanchor="middle",
                            font=dict(family=FONT, size=22, color="#FFFFFF")))

annotations.append(dict(xref="paper", yref="paper", x=px(14), y=py(17), showarrow=False, xanchor="left",
                        yanchor="middle", font=dict(family=FONT, size=13.2, color="#222222"),
                        text="Published on Investing.com, 26/Aug/2025 - 9:47:56 GMT, Powered by TradingView."))
annotations.append(dict(xref="paper", yref="paper", x=px(14), y=py(40), showarrow=False, xanchor="left",
                        yanchor="middle", font=dict(family=FONT, size=13.2, color="#111111"),
                        text="<b>SOL/USD, Binance:SOL/USD, D</b>"))

# logo
annotations.append(dict(xref="paper", yref="paper", x=px(33), y=py(1345), showarrow=False, xanchor="left",
                        yanchor="middle", font=dict(family=FONT, size=40, color="#000000"),
                        text="<b>Investing</b>"))
annotations.append(dict(xref="paper", yref="paper", x=px(214), y=py(1349), showarrow=False, xanchor="left",
                        yanchor="middle", font=dict(family=FONT, size=27, color="#444444"), text=".com"))

layout = go.Layout(
    width=W, height=H, margin=dict(l=0, r=0, t=0, b=0), autosize=False,
    paper_bgcolor="#FFFFFF", plot_bgcolor="#FFFFFF", showlegend=False, hovermode=False,
    barmode="overlay", bargap=0,
    xaxis=dict(domain=[px(8), px(2657)], anchor="y3", type="date",
               range=["2024-11-10 15:00", "2025-10-09 20:00"],
               rangeslider=dict(visible=False), showgrid=False, zeroline=False,
               tickmode="array", tickvals=month_dates, ticktext=month_names,
               ticks="outside", ticklen=7, tickwidth=1.6, tickcolor=AXIS_COLOR, ticklabelstandoff=-4,
               showline=True, linecolor=AXIS_COLOR, linewidth=2.4,
               tickfont=dict(family=FONT, size=21.5, color=AXIS_COLOR)),
    # 13.45 px per million, zero on the pane floor
    yaxis=dict(domain=[py(1393), py(58)], anchor="x", range=[0, 99.26], visible=False, fixedrange=True),
    yaxis2=dict(overlaying="y", anchor="x", side="right", type="log",
                range=[math.log10(88.93), math.log10(337.3)], showgrid=False, zeroline=False,
                tickmode="array", tickvals=price_ticks, ticktext=[f"{t:.3f}" for t in price_ticks],
                ticks="outside", ticklen=7, tickwidth=1.6, tickcolor=AXIS_COLOR, ticklabelstandoff=2,
                showline=True, linecolor=AXIS_COLOR, linewidth=2.4,
                tickfont=dict(family=FONT, size=22, color=AXIS_COLOR)),
    yaxis3=dict(domain=[py(1604), py(1393)], anchor="x", side="right",
                range=[-8.5, 113.2], showgrid=False, zeroline=False,
                tickmode="array", tickvals=[80, 0], ticktext=["80.0000", "0.0000"],
                ticks="outside", ticklen=7, tickwidth=1.6, tickcolor=AXIS_COLOR, ticklabelstandoff=2,
                showline=True, linecolor=AXIS_COLOR, linewidth=2.4,
                tickfont=dict(family=FONT, size=22, color=AXIS_COLOR)),
    shapes=shapes, annotations=annotations,
)

fig = go.Figure(data=data, layout=layout)
fig.write_html("out.html", config=dict(displayModeBar=False),
               post_script="document.body.style.margin='0';")
